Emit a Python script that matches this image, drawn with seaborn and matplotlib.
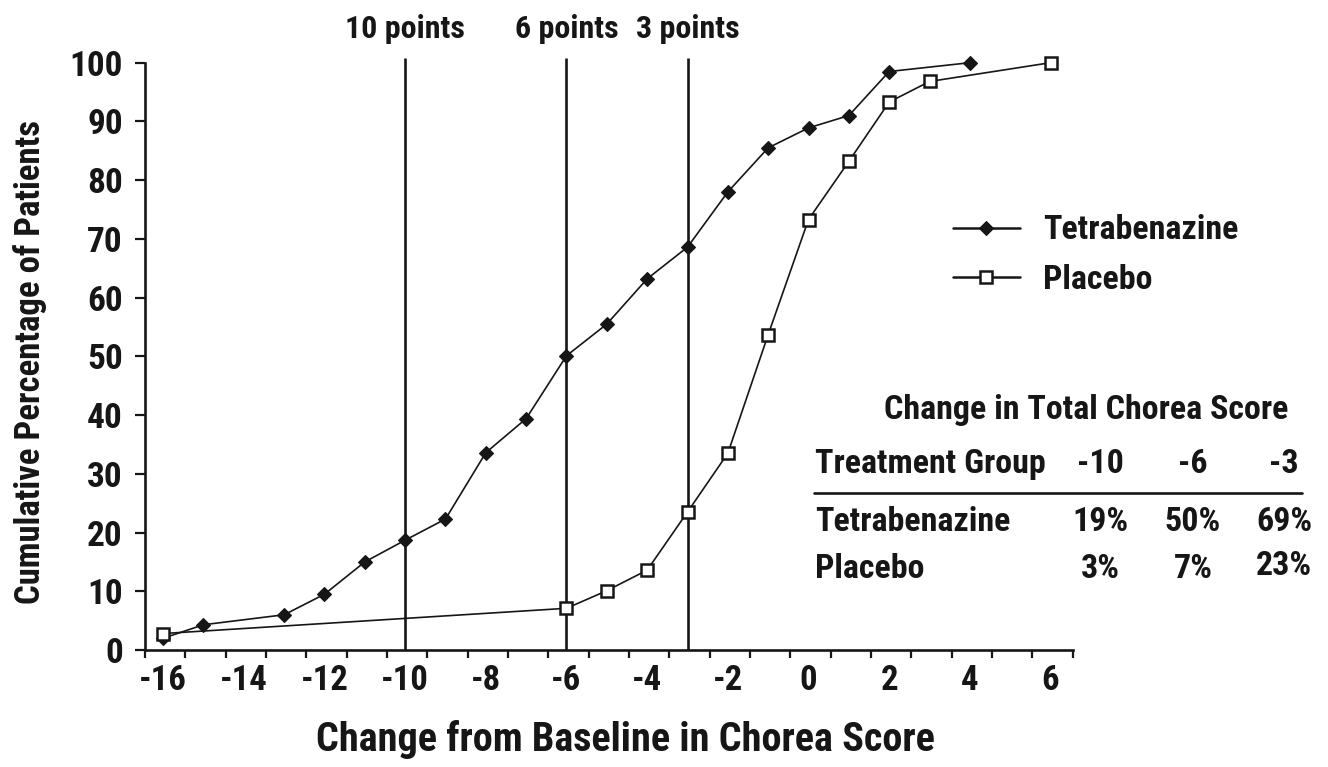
import matplotlib
matplotlib.use("Agg")
import matplotlib.pyplot as plt
import seaborn as sns
from matplotlib import font_manager as fm
from matplotlib.lines import Line2D

# valeurs (pourcentage cumulé de patients)
tbz_change = [-16, -15, -13, -12, -11, -10, -9, -8, -7, -6, -5, -4, -3, -2, -1, 0, 1, 2, 4]
tbz_pct = [2.0, 4.3, 6.0, 9.5, 15.0, 18.7, 22.3, 33.6, 39.4, 50.1, 55.5, 63.2, 68.6, 78.0, 85.5, 88.9, 91.0, 98.5, 100]
pbo_change = [-16, -6, -5, -4, -3, -2, -1, 0, 1, 2, 3, 6]
pbo_pct = [2.8, 7.1, 10.1, 13.6, 23.5, 33.5, 53.7, 73.3, 83.2, 93.3, 96.8, 100]

cutoffs = [-10, -6, -3]
cutoff_labels = ["10 points", "6 points", "3 points"]

x_ticks = [-16, -14, -12, -10, -8, -6, -4, -2, 0, 2, 4, 6]
y_ticks = [0, 10, 20, 30, 40, 50, 60, 70, 80, 90, 100]

table_title = "Change in Total Chorea Score"
table_header = ["Treatment Group", "-10", "-6", "-3"]
table_groups = ["Tetrabenazine", "Placebo"]
table_tbz = ["19%", "50%", "69%"]
table_pbo = ["3%", "7%", "23%"]


def pick_font():
    ttf = fm.fontManager.ttflist
    names = {f.name for f in ttf}
    for name in ["Roboto Condensed", "Liberation Sans Narrow", "Open Sans Condensed",
                 "Noto Sans Condensed", "DejaVu Sans Condensed"]:
        if name in names:
            return name, "normal", 1.0
    for f in ttf:
        if f.stretch != "normal" and f.name in ("Roboto", "Noto Sans", "Open Sans", "DejaVu Sans", "Liberation Sans"):
            return f.name, "condensed", 1.0
    return "Liberation Sans", "normal", 0.78


W, H = 1328, 767
def fx(px):
    return px / W
def fy(py):
    return 1 - py / H

sns.set_style("ticks")
fam, stretch, k = pick_font()
plt.rcParams["font.family"] = [fam, "DejaVu Sans"]
plt.rcParams["font.stretch"] = stretch
plt.rcParams["font.weight"] = "bold"

INK = "#161616"
fig = plt.figure(figsize=(W / 100, H / 100), dpi=100)
ax = fig.add_axes([fx(145), fy(650), (1072.7 - 145) / W, (650 - 62.7) / H])

sns.lineplot(x=tbz_change, y=tbz_pct, ax=ax, color=INK, lw=1.2, marker="D",
             markersize=7, markerfacecolor=INK, markeredgecolor=INK, markeredgewidth=0.8,
             label="Tetrabenazine", sort=False, estimator=None, clip_on=False, zorder=3)
sns.lineplot(x=pbo_change, y=pbo_pct, ax=ax, color=INK, lw=1.2, marker="s",
             markersize=8.8, markerfacecolor="white", markeredgecolor=INK, markeredgewidth=1.8,
             label="Placebo", sort=False, estimator=None, clip_on=False, zorder=3)

ax.vlines(cutoffs, 0, 100.8, colors=INK, lw=1.9, clip_on=False, zorder=1)
for c, lab in zip(cutoffs, cutoff_labels):
    ax.text(c, 104.2, lab, ha="center", va="baseline", fontsize=23 * k, color=INK, clip_on=False)

ax.set_xlim(-16.45, 6.55)
ax.set_ylim(0, 100)
ax.set_xticks(x_ticks)
ax.set_xticklabels([str(v) for v in x_ticks])
ax.set_xticks([-16.45 + i for i in range(24)], minor=True)
ax.set_yticks(y_ticks)
ax.tick_params(axis="x", which="major", length=0, pad=10, labelsize=25 * k, labelcolor=INK)
ax.tick_params(axis="x", which="minor", length=6, width=1.6, color=INK, direction="out")
ax.tick_params(axis="y", length=7, width=1.6, color=INK, pad=9, labelsize=25.5 * k, labelcolor=INK)
for side in ["top", "right"]:
    ax.spines[side].set_visible(False)
for side in ["left", "bottom"]:
    ax.spines[side].set_linewidth(1.9)
    ax.spines[side].set_color(INK)
ax.set_xlabel("")
ax.set_ylabel("")

fig.text(fx(625), fy(751), "Change from Baseline in Chorea Score", ha="center", va="baseline",
         fontsize=29 * k, color=INK)
fig.text(fx(30), fy(362), "Cumulative Percentage of Patients", ha="center", va="center",
         rotation=90, fontsize=25 * k, color=INK)

# légende
LEG = 24.5 * k
leg_px = LEG * 100 / 72
leg = ax.legend(loc="center left", bbox_to_anchor=(fx(952.7), fy(255)), bbox_transform=fig.transFigure,
                frameon=False, fontsize=LEG, handlelength=67 / leg_px, handletextpad=23 / leg_px,
                borderpad=0, borderaxespad=0, labelspacing=0.5, labelcolor=INK)
for hl in leg.get_lines():
    hl.set_linewidth(1.8)

# petit tableau à droite
fig.text(fx(1086), fy(419), table_title, ha="center", va="baseline", fontsize=LEG, color=INK)
col_x = [1100, 1193, 1284]
fig.text(fx(815), fy(473), table_header[0], ha="left", va="baseline", fontsize=LEG, color=INK)
for cx, lab in zip(col_x, table_header[1:]):
    fig.text(fx(cx), fy(473), lab, ha="center", va="baseline", fontsize=LEG, color=INK)
fig.add_artist(Line2D([fx(814), fx(1302)], [fy(493), fy(493)], color=INK, lw=1.9))
fig.text(fx(815), fy(531), table_groups[0], ha="left", va="baseline", fontsize=LEG, color=INK)
for cx, lab in zip(col_x, table_tbz):
    fig.text(fx(cx), fy(531), lab, ha="center", va="baseline", fontsize=LEG, color=INK)
fig.text(fx(815), fy(578), table_groups[1], ha="left", va="baseline", fontsize=LEG, color=INK)
for cx, lab, yb in zip(col_x, table_pbo, [578, 578, 575]):
    fig.text(fx(cx), fy(yb), lab, ha="center", va="baseline", fontsize=LEG, color=INK)

fig.savefig("out.png", dpi=100)
